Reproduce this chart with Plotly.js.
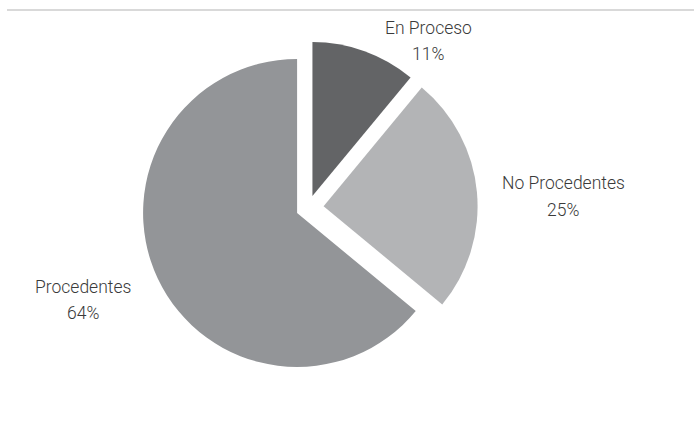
<!DOCTYPE html>
<html>
<head>
<meta charset="utf-8">
<script src="https://cdn.plot.ly/plotly-3.0.1.min.js"></script>
<style>html,body{margin:0;padding:0;background:#fff;}#chart{width:694px;height:425px;}</style>
</head>
<body>
<div id="chart"></div>
<script>
const categories = ["En Proceso", "No Procedentes", "Procedentes"];
const percentages = [11, 25, 64];
const sliceColors = ["#636466", "#b3b4b6", "#939598"];
// label anchor: center x, y of first line, y of second line (pixels)
const labelPositions = [
  {x: 428, y1: 28, y2: 54},
  {x: 563, y1: 183, y2: 210},
  {x: 83, y1: 287, y2: 313}
];

const W = 694, H = 425;
const FONT = "Roboto, DejaVu Sans Condensed, sans-serif";

const trace = {
  type: "pie",
  labels: categories,
  values: percentages,
  sort: false,
  direction: "clockwise",
  rotation: 0,
  pull: [0.08, 0.1, 0.08],
  marker: {colors: sliceColors, line: {width: 0}},
  textinfo: "none",
  hoverinfo: "label+percent",
  showlegend: false,
  domain: {x: [0.1999, 0.6884], y: [0.1127, 0.9099]}
};

const annotations = [];
categories.forEach((c, i) => {
  const p = labelPositions[i];
  annotations.push({
    xref: "paper", yref: "paper", x: p.x / W, y: 1 - p.y1 / H,
    xanchor: "center", yanchor: "middle", text: c, showarrow: false,
    font: {family: FONT, size: 17.5, color: "#3a3a3a", weight: 300}
  });
  annotations.push({
    xref: "paper", yref: "paper", x: p.x / W, y: 1 - p.y2 / H,
    xanchor: "center", yanchor: "middle", text: percentages[i] + "%", showarrow: false,
    font: {family: FONT, size: 17.5, color: "#3a3a3a", weight: 300}
  });
});

const layout = {
  width: W, height: H,
  margin: {l: 0, r: 0, t: 0, b: 0},
  paper_bgcolor: "#ffffff",
  plot_bgcolor: "#ffffff",
  font: {family: FONT, color: "#3a3a3a"},
  annotations: annotations,
  shapes: [{
    type: "line", xref: "paper", yref: "paper",
    x0: 7 / W, x1: 1, y0: 1 - 10 / H, y1: 1 - 10 / H,
    line: {color: "#d9d9d9", width: 2}
  }]
};

Plotly.newPlot("chart", [trace], layout, {displayModeBar: false, staticPlot: true});
</script>
</body>
</html>
